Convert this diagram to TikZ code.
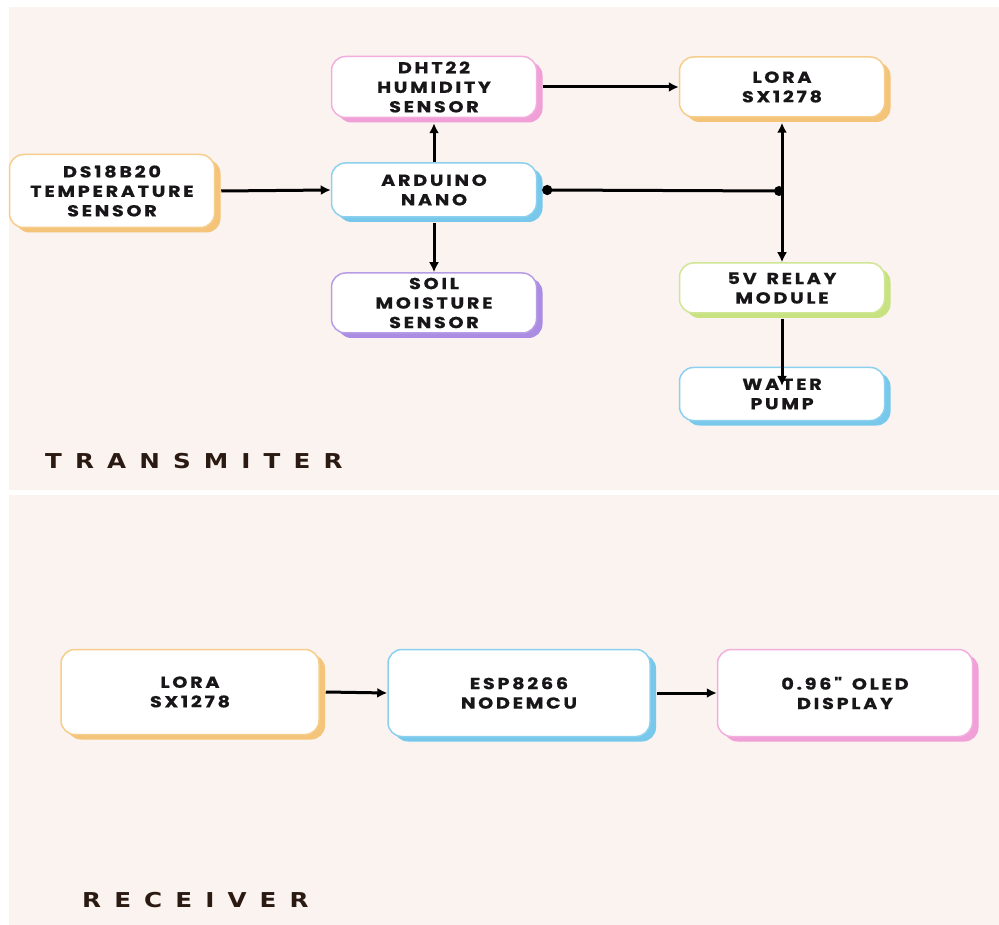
\documentclass[tikz,border=0pt]{standalone}
\usepackage{fontspec}
\newfontfamily\boxfont[LetterSpace=17, FakeStretch=1.2, FakeBold=0.5]{Poppins}
\newfontfamily\titlefont[LetterSpace=64, FakeStretch=1.2]{DejaVu Sans}
\usetikzlibrary{arrows.meta,shadows}
\definecolor{paper}{RGB}{251,243,240}
\definecolor{ink}{RGB}{24,22,24}
\definecolor{titleink}{RGB}{42,26,18}
\definecolor{boxorange}{RGB}{244,196,120}
\definecolor{boxpink}{RGB}{240,160,215}
\definecolor{boxblue}{RGB}{120,200,236}
\definecolor{boxpurple}{RGB}{170,140,226}
\definecolor{boxgreen}{RGB}{200,226,130}

\begin{document}
\begin{tikzpicture}[
        x=1pt, y=-1pt,
        font=\boxfont\bfseries\fontsize{16}{19.5}\selectfont,
        >={Latex[length=10pt,width=10pt]},
        block/.style={
            draw=#1!85, fill=white, line width=1.5pt,
            rounded corners=14pt,
            minimum width=205pt, inner sep=2pt,
            align=center, text=ink,
            drop shadow={shadow xshift=6pt, shadow yshift=-5pt, fill=#1, draw=none, opacity=1}
        },
        wire/.style={line width=3pt, draw=black},
        title/.style={font=\titlefont\bfseries\fontsize{20.5}{24}\selectfont, text=titleink, inner sep=0pt, anchor=base west}
    ]

        \useasboundingbox (0,0) rectangle (999,925);
        \fill[white] (0,0) rectangle (999,925);
        \fill[paper] (9,7) rectangle (999,490);
        \fill[paper] (9,495) rectangle (999,925);

        % transmitter
        \node[block=boxorange, minimum height=73pt] (temp) at (112,191) {DS18B20\\TEMPERATURE\\SENSOR};
        \node[block=boxpink, minimum height=61pt] (dht) at (434,87) {DHT22\\HUMIDITY\\SENSOR};
        \node[block=boxblue, minimum height=54pt] (nano) at (434,190) {ARDUINO\\NANO};
        \node[block=boxpurple, minimum height=60pt] (soil) at (434,303) {SOIL\\MOISTURE\\SENSOR};
        \node[block=boxorange, minimum height=60pt] (lora) at (782,87) {LORA\\SX1278};
        \node[block=boxgreen, minimum height=50pt] (relay) at (782,288) {5V\hspace{3pt} RELAY\\MODULE};
        \node[block=boxblue, minimum height=53pt] (pump) at (782,394) {WATER\\PUMP};
        \coordinate (bus) at (782,191);

        \draw[wire,->] ([xshift=6pt]temp.east) -- (nano.west);
        \draw[wire,->] (nano.north) -- ([yshift=-5pt]dht.south);
        \draw[wire,->] ([yshift=-5pt]nano.south) -- (soil.north);
        \draw[wire,->] ([xshift=6pt]dht.east) -- (lora.west);
        \draw[wire,{Circle[length=10pt]}-] ([xshift=5pt]nano.east) -- (bus);
        \fill (bus) ++(-3pt,0) circle (5pt);
        \draw[wire,<->] ([yshift=-5pt]lora.south) -- (relay.north);
        \draw[wire,->] ([yshift=-5pt]relay.south) -- ([yshift=8pt]pump.center);

        \node[title] (txlabel) at (45,468) {TRANSMITER};

        % receiver
        \node[block=boxorange, minimum width=258pt, minimum height=85pt] (rxlora) at (190,692) {LORA\\SX1278};
        \node[block=boxblue, minimum width=262pt, minimum height=87pt] (esp) at (519,693) {ESP8266\\NODEMCU};
        \node[block=boxpink, minimum width=255pt, minimum height=87pt] (oled) at (845,693) {0.96"\hspace{3pt} OLED\\DISPLAY};

        \draw[wire,->] ([xshift=6pt]rxlora.east) -- (esp.west);
        \draw[wire,->] ([xshift=6pt]esp.east) -- (oled.west);

        \node[title] (rxlabel) at (82,907) {RECEIVER};
    \end{tikzpicture}
\end{document}
